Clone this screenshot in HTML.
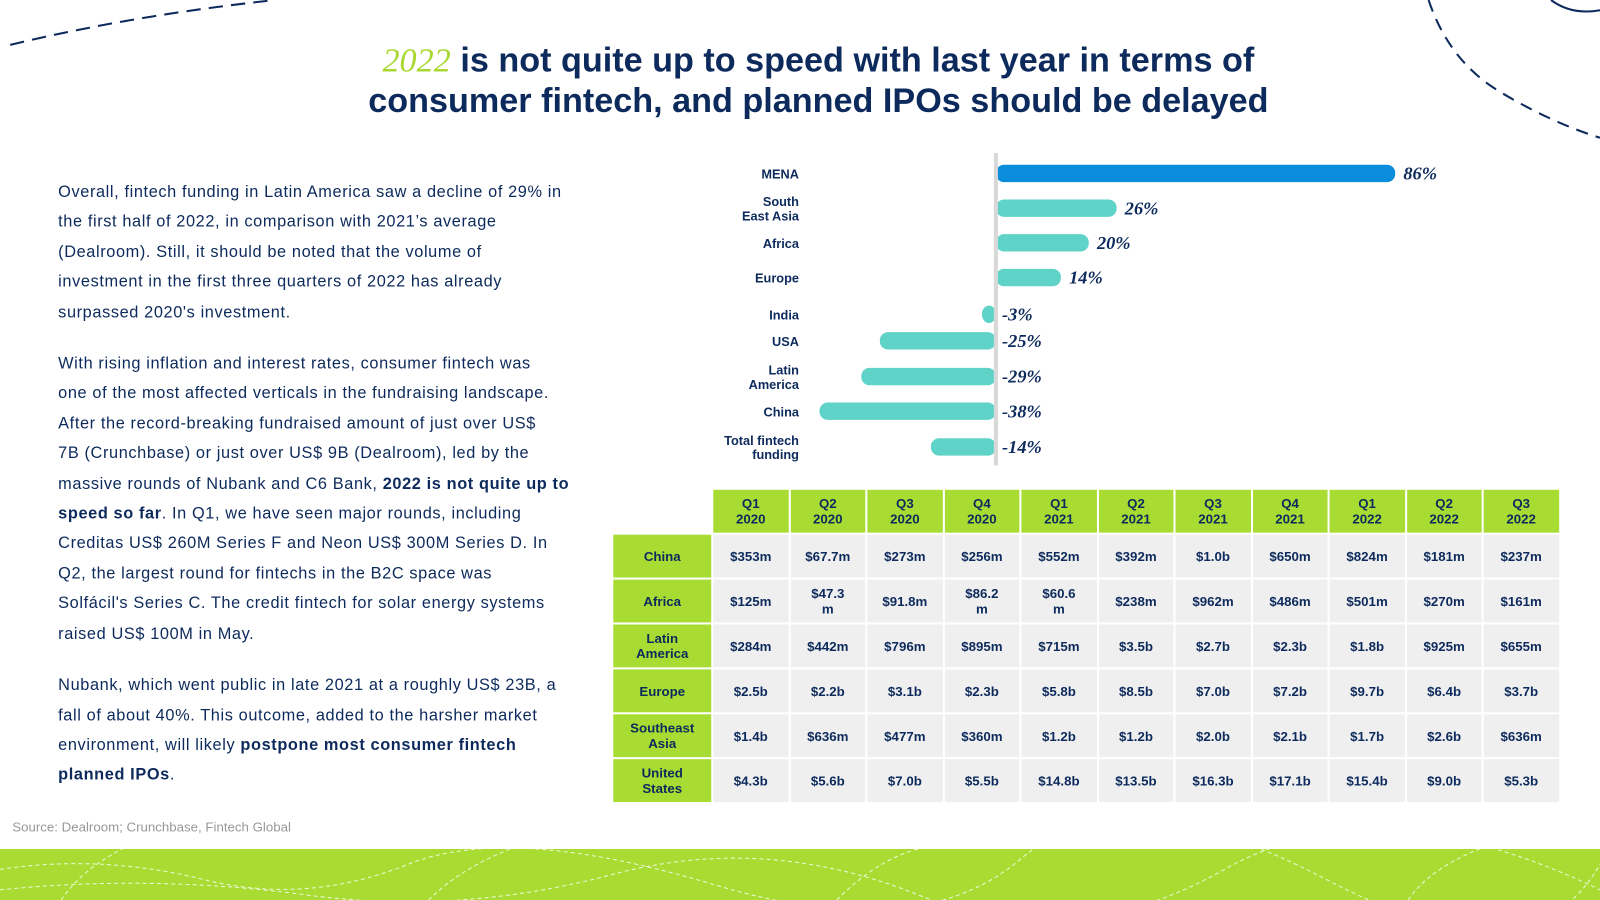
<!DOCTYPE html>
<html><head><meta charset="utf-8">
<style>
html,body{margin:0;padding:0;background:#fff;width:1600px;height:900px;overflow:hidden}
#wrap{position:absolute;left:0;top:0;width:1568px;height:882px;transform:scale(1.020408);transform-origin:0 0;font-family:"Liberation Sans",sans-serif;color:#0d2a5c}
.title{position:absolute;left:0;width:1604px;top:40px;text-align:center;font-size:33.5px;font-weight:bold;line-height:40px;color:#0d2a5c}
.title i{font-family:"Liberation Serif",serif;color:#a8d832;font-weight:normal}
.body{position:absolute;left:57px;top:174px;width:540px;font-size:16px;line-height:29.4px;color:#0d2a5c;letter-spacing:0.6px;white-space:nowrap}
.body p{margin:0 0 21px 0}
.src{position:absolute;left:12px;top:803px;font-size:13px;color:#999}
.band{position:absolute;left:0;top:832px;width:1568px;height:50px;background:#a8dc33;overflow:hidden}
table{position:absolute;left:599px;top:478px;border-collapse:separate;border-spacing:2px;font-size:13px;font-weight:bold}
td{text-align:center;color:#0d2a5c;height:42px;padding:0;line-height:15px}
td.h{background:#a8dc33;width:73.5px}
td.l{background:#a8dc33;width:96px}
td.v{background:#efefef}
</style></head><body>
<div id="wrap">
<svg style="position:absolute;left:0;top:0" width="1568" height="160">
<path d="M10 44 Q130 15 270 0" stroke="#0d2a5c" stroke-width="2" fill="none" stroke-dasharray="14 8"/>
<path d="M1400 0 Q1420 60 1470 90 Q1520 120 1568 135" stroke="#0d2a5c" stroke-width="2" fill="none" stroke-dasharray="12 8"/>
<path d="M1520 0 Q1540 15 1568 10" stroke="#0d2a5c" stroke-width="2" fill="none"/>
</svg>
<div class="title"><i>2022</i> is not quite up to speed with last year in terms of<br>consumer fintech, and planned IPOs should be delayed</div>
<div class="body">
<p>Overall, fintech funding in Latin America saw a decline of 29% in<br>the first half of 2022, in comparison with 2021’s average<br>(Dealroom). Still, it should be noted that the volume of<br>investment in the first three quarters of 2022 has already<br>surpassed 2020's investment.</p>
<p>With rising inflation and interest rates, consumer fintech was<br>one of the most affected verticals in the fundraising landscape.<br>After the record-breaking fundraised amount of just over US$<br>7B (Crunchbase) or just over US$ 9B (Dealroom), led by the<br>massive rounds of Nubank and C6 Bank, <b>2022 is not quite up to</b><br><b>speed so far</b>. In Q1, we have seen major rounds, including<br>Creditas US$ 260M Series F and Neon US$ 300M Series D. In<br>Q2, the largest round for fintechs in the B2C space was<br>Solfácil's Series C. The credit fintech for solar energy systems<br>raised US$ 100M in May.</p>
<p>Nubank, which went public in late 2021 at a roughly US$ 23B, a<br>fall of about 40%. This outcome, added to the harsher market<br>environment, will likely <b>postpone most consumer fintech</b><br><b>planned IPOs</b>.</p>
</div>
<svg id="chart" style="position:absolute;left:0;top:0" width="1568" height="470"></svg>
<table id="tbl"></table>
<div class="src">Source: Dealroom; Crunchbase, Fintech Global</div>
<div class="band">
<svg width="1568" height="50"><g stroke="#fff" stroke-width="1" fill="none" stroke-dasharray="4 3" opacity="0.8">
<path d="M0 20 Q100 5 200 30 T400 15 T700 35 T1000 10 T1300 30 T1568 15"/>
<path d="M0 40 Q150 25 300 45 T600 25 T900 45 T1200 20 T1568 40"/>
<path d="M60 50 Q80 20 120 0 M420 50 Q450 20 500 0 M820 50 Q860 10 900 0 M1380 50 Q1400 20 1450 0"/></g></svg>
</div>
</div>
<script>
const regions=["MENA","South|East Asia","Africa","Europe","India","USA","Latin|America","China","Total fintech|funding"];
const changes=[86,26,20,14,-3,-25,-29,-38,-14];
const rowY=[170,204,238,272,308,334,369,403,438];
const svg=document.getElementById('chart');const NS='http://www.w3.org/2000/svg';
const x0=976,k=4.55;
function xs(v){return x0+v*k;}
function mk(t,a){const e=document.createElementNS(NS,t);for(const n in a)e.setAttribute(n,a[n]);svg.appendChild(e);return e;}
regions.forEach((r,i)=>{
 const v=changes[i],y=rowY[i],h=17;
 const x1=Math.min(xs(0),xs(v)),w=Math.max(Math.abs(xs(v)-xs(0)),3);
 const b=mk('rect',{x:x1,y:y-h/2,width:w,height:h,rx:8,fill:i==0?'#0a8ddb':'#5fd3c7'});
 
 
 const lx=v>=0?xs(v)+8:x0+6;
 const t=mk('text',{x:lx,y:y+6,'font-family':'Liberation Serif,serif','font-style':'italic','font-weight':'bold','font-size':18,fill:'#0d2a5c'});
 t.textContent=v+'%';
 
 
 const parts=r.split('|');
 parts.forEach((p,j)=>{const l=mk('text',{x:783,y:y+5+(j-(parts.length-1)/2)*14,'text-anchor':'end','font-size':12.5,'font-weight':'bold',fill:'#0d2a5c'});l.textContent=p;
 
 });
});
const ax=mk('rect',{x:974,y:150,width:4,height:306,fill:'#d8d8d8'});



const quarters=["Q1|2020","Q2|2020","Q3|2020","Q4|2020","Q1|2021","Q2|2021","Q3|2021","Q4|2021","Q1|2022","Q2|2022","Q3|2022"];
const rowsL=["China","Africa","Latin|America","Europe","Southeast|Asia","United|States"];
const cells=[
["$353m","$67.7m","$273m","$256m","$552m","$392m","$1.0b","$650m","$824m","$181m","$237m"],
["$125m","$47.3|m","$91.8m","$86.2|m","$60.6|m","$238m","$962m","$486m","$501m","$270m","$161m"],
["$284m","$442m","$796m","$895m","$715m","$3.5b","$2.7b","$2.3b","$1.8b","$925m","$655m"],
["$2.5b","$2.2b","$3.1b","$2.3b","$5.8b","$8.5b","$7.0b","$7.2b","$9.7b","$6.4b","$3.7b"],
["$1.4b","$636m","$477m","$360m","$1.2b","$1.2b","$2.0b","$2.1b","$1.7b","$2.6b","$636m"],
["$4.3b","$5.6b","$7.0b","$5.5b","$14.8b","$13.5b","$16.3b","$17.1b","$15.4b","$9.0b","$5.3b"]];
const tbl=document.getElementById('tbl');
let h='<tr><td></td>'+quarters.map(q=>'<td class="h">'+q.replace('|','<br>')+'</td>').join('')+'</tr>';
rowsL.forEach((r,i)=>{h+='<tr><td class="l">'+r.replace('|','<br>')+'</td>'+cells[i].map(c=>'<td class="v">'+c.replace('|','<br>')+'</td>').join('')+'</tr>';});
tbl.innerHTML=h;
</script>
</body></html>
